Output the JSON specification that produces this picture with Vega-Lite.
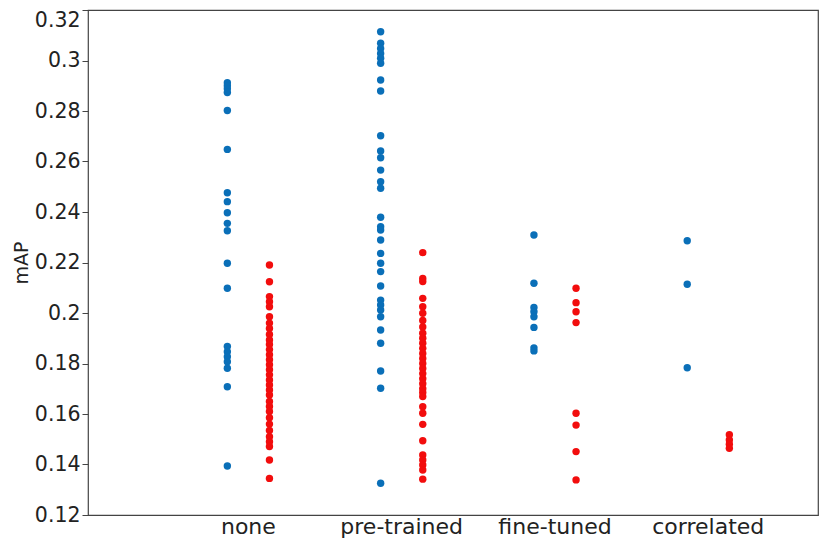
{
  "$schema": "https://vega.github.io/schema/vega-lite/v6.json",
  "width": 730,
  "height": 505,
  "autosize": "none",
  "padding": {"left": 88, "top": 10, "right": 2, "bottom": 25},
  "background": "white",
  "config": {
    "font": "DejaVu Sans",
    "view": {"stroke": "#444444", "strokeWidth": 1.2}
  },
  "datasets": {
    "pts": [
      {"method": "none", "series": "A", "mAP": 0.2912},
      {"method": "none", "series": "A", "mAP": 0.2900},
      {"method": "none", "series": "A", "mAP": 0.2888},
      {"method": "none", "series": "A", "mAP": 0.2873},
      {"method": "none", "series": "A", "mAP": 0.2802},
      {"method": "none", "series": "A", "mAP": 0.2648},
      {"method": "none", "series": "A", "mAP": 0.2476},
      {"method": "none", "series": "A", "mAP": 0.2441},
      {"method": "none", "series": "A", "mAP": 0.2397},
      {"method": "none", "series": "A", "mAP": 0.2355},
      {"method": "none", "series": "A", "mAP": 0.2326},
      {"method": "none", "series": "A", "mAP": 0.2197},
      {"method": "none", "series": "A", "mAP": 0.2098},
      {"method": "none", "series": "A", "mAP": 0.1867},
      {"method": "none", "series": "A", "mAP": 0.1847},
      {"method": "none", "series": "A", "mAP": 0.1827},
      {"method": "none", "series": "A", "mAP": 0.1807},
      {"method": "none", "series": "A", "mAP": 0.1781},
      {"method": "none", "series": "A", "mAP": 0.1708},
      {"method": "none", "series": "A", "mAP": 0.1394},
      {"method": "none", "series": "B", "mAP": 0.2190},
      {"method": "none", "series": "B", "mAP": 0.2124},
      {"method": "none", "series": "B", "mAP": 0.2065},
      {"method": "none", "series": "B", "mAP": 0.2045},
      {"method": "none", "series": "B", "mAP": 0.2025},
      {"method": "none", "series": "B", "mAP": 0.1985},
      {"method": "none", "series": "B", "mAP": 0.1960},
      {"method": "none", "series": "B", "mAP": 0.1939},
      {"method": "none", "series": "B", "mAP": 0.1915},
      {"method": "none", "series": "B", "mAP": 0.1893},
      {"method": "none", "series": "B", "mAP": 0.1875},
      {"method": "none", "series": "B", "mAP": 0.1855},
      {"method": "none", "series": "B", "mAP": 0.1835},
      {"method": "none", "series": "B", "mAP": 0.1815},
      {"method": "none", "series": "B", "mAP": 0.1795},
      {"method": "none", "series": "B", "mAP": 0.1775},
      {"method": "none", "series": "B", "mAP": 0.1755},
      {"method": "none", "series": "B", "mAP": 0.1735},
      {"method": "none", "series": "B", "mAP": 0.1715},
      {"method": "none", "series": "B", "mAP": 0.1695},
      {"method": "none", "series": "B", "mAP": 0.1675},
      {"method": "none", "series": "B", "mAP": 0.1650},
      {"method": "none", "series": "B", "mAP": 0.1630},
      {"method": "none", "series": "B", "mAP": 0.1610},
      {"method": "none", "series": "B", "mAP": 0.1585},
      {"method": "none", "series": "B", "mAP": 0.1560},
      {"method": "none", "series": "B", "mAP": 0.1535},
      {"method": "none", "series": "B", "mAP": 0.1510},
      {"method": "none", "series": "B", "mAP": 0.1490},
      {"method": "none", "series": "B", "mAP": 0.1471},
      {"method": "none", "series": "B", "mAP": 0.1418},
      {"method": "none", "series": "B", "mAP": 0.1345},
      {"method": "pre-trained", "series": "A", "mAP": 0.3114},
      {"method": "pre-trained", "series": "A", "mAP": 0.3068},
      {"method": "pre-trained", "series": "A", "mAP": 0.3048},
      {"method": "pre-trained", "series": "A", "mAP": 0.3028},
      {"method": "pre-trained", "series": "A", "mAP": 0.3009},
      {"method": "pre-trained", "series": "A", "mAP": 0.2989},
      {"method": "pre-trained", "series": "A", "mAP": 0.2923},
      {"method": "pre-trained", "series": "A", "mAP": 0.2879},
      {"method": "pre-trained", "series": "A", "mAP": 0.2702},
      {"method": "pre-trained", "series": "A", "mAP": 0.2642},
      {"method": "pre-trained", "series": "A", "mAP": 0.2615},
      {"method": "pre-trained", "series": "A", "mAP": 0.2566},
      {"method": "pre-trained", "series": "A", "mAP": 0.2520},
      {"method": "pre-trained", "series": "A", "mAP": 0.2494},
      {"method": "pre-trained", "series": "A", "mAP": 0.2379},
      {"method": "pre-trained", "series": "A", "mAP": 0.2342},
      {"method": "pre-trained", "series": "A", "mAP": 0.2329},
      {"method": "pre-trained", "series": "A", "mAP": 0.2289},
      {"method": "pre-trained", "series": "A", "mAP": 0.2236},
      {"method": "pre-trained", "series": "A", "mAP": 0.2197},
      {"method": "pre-trained", "series": "A", "mAP": 0.2164},
      {"method": "pre-trained", "series": "A", "mAP": 0.2107},
      {"method": "pre-trained", "series": "A", "mAP": 0.2051},
      {"method": "pre-trained", "series": "A", "mAP": 0.2032},
      {"method": "pre-trained", "series": "A", "mAP": 0.2012},
      {"method": "pre-trained", "series": "A", "mAP": 0.1985},
      {"method": "pre-trained", "series": "A", "mAP": 0.1933},
      {"method": "pre-trained", "series": "A", "mAP": 0.1880},
      {"method": "pre-trained", "series": "A", "mAP": 0.1770},
      {"method": "pre-trained", "series": "A", "mAP": 0.1702},
      {"method": "pre-trained", "series": "A", "mAP": 0.1326},
      {"method": "pre-trained", "series": "B", "mAP": 0.2239},
      {"method": "pre-trained", "series": "B", "mAP": 0.2137},
      {"method": "pre-trained", "series": "B", "mAP": 0.2125},
      {"method": "pre-trained", "series": "B", "mAP": 0.2058},
      {"method": "pre-trained", "series": "B", "mAP": 0.2025},
      {"method": "pre-trained", "series": "B", "mAP": 0.1999},
      {"method": "pre-trained", "series": "B", "mAP": 0.1970},
      {"method": "pre-trained", "series": "B", "mAP": 0.1945},
      {"method": "pre-trained", "series": "B", "mAP": 0.1920},
      {"method": "pre-trained", "series": "B", "mAP": 0.1900},
      {"method": "pre-trained", "series": "B", "mAP": 0.1880},
      {"method": "pre-trained", "series": "B", "mAP": 0.1860},
      {"method": "pre-trained", "series": "B", "mAP": 0.1840},
      {"method": "pre-trained", "series": "B", "mAP": 0.1820},
      {"method": "pre-trained", "series": "B", "mAP": 0.1800},
      {"method": "pre-trained", "series": "B", "mAP": 0.1780},
      {"method": "pre-trained", "series": "B", "mAP": 0.1760},
      {"method": "pre-trained", "series": "B", "mAP": 0.1740},
      {"method": "pre-trained", "series": "B", "mAP": 0.1720},
      {"method": "pre-trained", "series": "B", "mAP": 0.1700},
      {"method": "pre-trained", "series": "B", "mAP": 0.1685},
      {"method": "pre-trained", "series": "B", "mAP": 0.1669},
      {"method": "pre-trained", "series": "B", "mAP": 0.1629},
      {"method": "pre-trained", "series": "B", "mAP": 0.1603},
      {"method": "pre-trained", "series": "B", "mAP": 0.1559},
      {"method": "pre-trained", "series": "B", "mAP": 0.1494},
      {"method": "pre-trained", "series": "B", "mAP": 0.1438},
      {"method": "pre-trained", "series": "B", "mAP": 0.1418},
      {"method": "pre-trained", "series": "B", "mAP": 0.1398},
      {"method": "pre-trained", "series": "B", "mAP": 0.1378},
      {"method": "pre-trained", "series": "B", "mAP": 0.1342},
      {"method": "fine-tuned", "series": "A", "mAP": 0.2309},
      {"method": "fine-tuned", "series": "A", "mAP": 0.2118},
      {"method": "fine-tuned", "series": "A", "mAP": 0.2022},
      {"method": "fine-tuned", "series": "A", "mAP": 0.2005},
      {"method": "fine-tuned", "series": "A", "mAP": 0.1985},
      {"method": "fine-tuned", "series": "A", "mAP": 0.1943},
      {"method": "fine-tuned", "series": "A", "mAP": 0.1862},
      {"method": "fine-tuned", "series": "A", "mAP": 0.1850},
      {"method": "fine-tuned", "series": "B", "mAP": 0.2098},
      {"method": "fine-tuned", "series": "B", "mAP": 0.2041},
      {"method": "fine-tuned", "series": "B", "mAP": 0.2005},
      {"method": "fine-tuned", "series": "B", "mAP": 0.1962},
      {"method": "fine-tuned", "series": "B", "mAP": 0.1603},
      {"method": "fine-tuned", "series": "B", "mAP": 0.1556},
      {"method": "fine-tuned", "series": "B", "mAP": 0.1451},
      {"method": "fine-tuned", "series": "B", "mAP": 0.1339},
      {"method": "correlated", "series": "A", "mAP": 0.2286},
      {"method": "correlated", "series": "A", "mAP": 0.2114},
      {"method": "correlated", "series": "A", "mAP": 0.1783},
      {"method": "correlated", "series": "B", "mAP": 0.1518},
      {"method": "correlated", "series": "B", "mAP": 0.1497},
      {"method": "correlated", "series": "B", "mAP": 0.1480},
      {"method": "correlated", "series": "B", "mAP": 0.1464}
    ]
  },
  "data": {"name": "pts"},
  "mark": {"type": "circle", "size": 55, "opacity": 1},
  "encoding": {
    "x": {
      "field": "method",
      "type": "nominal",
      "sort": ["none", "pre-trained", "fine-tuned", "correlated"],
      "scale": {"type": "band", "paddingInner": 0, "paddingOuter": 0.381, "align": 0.717},
      "axis": {
        "title": null,
        "labelAngle": 0,
        "labelFontSize": 22,
        "labelColor": "#222222",
        "labelPadding": 1,
        "ticks": false,
        "domain": false
      }
    },
    "xOffset": {
      "field": "series",
      "type": "nominal",
      "sort": ["A", "B"],
      "scale": {"type": "band", "paddingInner": 0, "paddingOuter": 0.82}
    },
    "y": {
      "field": "mAP",
      "type": "quantitative",
      "scale": {"domain": [0.12, 0.32], "nice": false, "zero": false},
      "axis": {
        "title": "mAP",
        "titleFontSize": 19,
        "titleFontWeight": "normal",
        "titleColor": "#222222",
        "titlePadding": 3,
        "values": [0.12, 0.14, 0.16, 0.18, 0.2, 0.22, 0.24, 0.26, 0.28, 0.3, 0.32],
        "format": ".2~f",
        "labelFontSize": 20.5,
        "labelColor": "#222222",
        "labelPadding": 2,
        "labelBaseline": {"condition": {"test": "datum.value >= 0.319", "value": "top"}, "value": "middle"},
        "tickSize": 6,
        "tickColor": "#444444",
        "grid": false,
        "domain": false
      }
    },
    "color": {
      "field": "series",
      "type": "nominal",
      "scale": {"domain": ["A", "B"], "range": ["#0a6fb8", "#f20d0d"]},
      "legend": null
    }
  }
}
